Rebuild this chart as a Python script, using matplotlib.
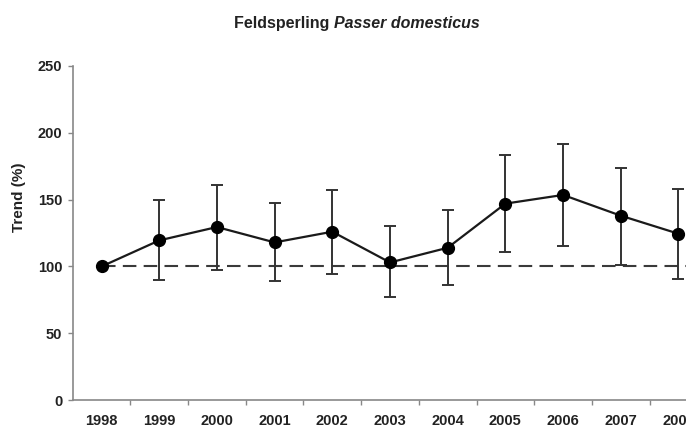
import numpy as np
import matplotlib.pyplot as plt
from matplotlib.ticker import FixedLocator

plt.rcParams['font.family'] = ['Liberation Sans', 'DejaVu Sans']

years = ['1998', '1999', '2000', '2001', '2002', '2003', '2004', '2005', '2006', '2007', '2008']
trend = [100, 119.5, 129.5, 118, 126, 103, 114, 147, 153.5, 138, 124.5]
upper = [100, 150, 161, 147.5, 157, 130, 142.5, 183, 191.5, 173.5, 158]
lower = [100, 90, 97.5, 89.5, 94.5, 77, 86.5, 110.5, 115, 101, 90.5]
baseline = 100

trend = np.array(trend)
err = np.vstack([trend - np.array(lower), np.array(upper) - trend])
x = np.arange(len(years))

fig = plt.figure(figsize=(6.86, 4.28), dpi=100)
# axes run past the right edge of the figure, last year is cut off
ax = fig.add_axes([0.106, 0.065, 0.925, 0.781])

ax.plot([x[0], x[-1] + 0.5], [baseline, baseline], color='#3a3a3a', lw=1.5,
        linestyle=(0, (6.5, 3.5)), zorder=1)
ax.errorbar(x, trend, yerr=err, fmt='none', ecolor='#333333', elinewidth=1.4,
            capsize=4, capthick=1.4, zorder=2)
ax.plot(x, trend, color='#1a1a1a', lw=1.6, marker='o', markersize=8.5,
        markerfacecolor='black', markeredgecolor='black', zorder=3)

ax.set_xlim(-0.5, len(years) - 0.5)
ax.set_ylim(0, 250)
ax.set_yticks(np.arange(0, 251, 50))
ax.set_xticks(x)
ax.set_xticklabels(years)
ax.xaxis.set_minor_locator(FixedLocator(x[:-1] + 0.5))

for side in ['top', 'right']:
    ax.spines[side].set_visible(False)
for side in ['left', 'bottom']:
    ax.spines[side].set_color('#888888')
    ax.spines[side].set_linewidth(1.2)

ax.tick_params(axis='x', which='major', length=0, pad=10, labelsize=10.5,
               labelcolor='#222222')
ax.tick_params(axis='x', which='minor', length=3.5, width=1, color='#888888',
               direction='out')
ax.tick_params(axis='y', length=3.5, width=1, color='#888888', pad=4,
               labelsize=10.5, labelcolor='#222222')
for lab in ax.get_xticklabels() + ax.get_yticklabels():
    lab.set_fontweight('bold')

fig.text(0.027, 0.54, 'Trend (%)', rotation=90, ha='center', va='center',
         fontsize=11, fontweight='bold', color='#222222')

fig.text(0.487, 0.946, 'Feldsperling ', ha='right', va='center', fontsize=11.5,
         fontweight='bold', color='#222222')
fig.text(0.487, 0.946, 'Passer domesticus', ha='left', va='center', fontsize=11.5,
         fontweight='bold', fontstyle='italic', color='#222222')

fig.savefig('out.png', dpi=100)
